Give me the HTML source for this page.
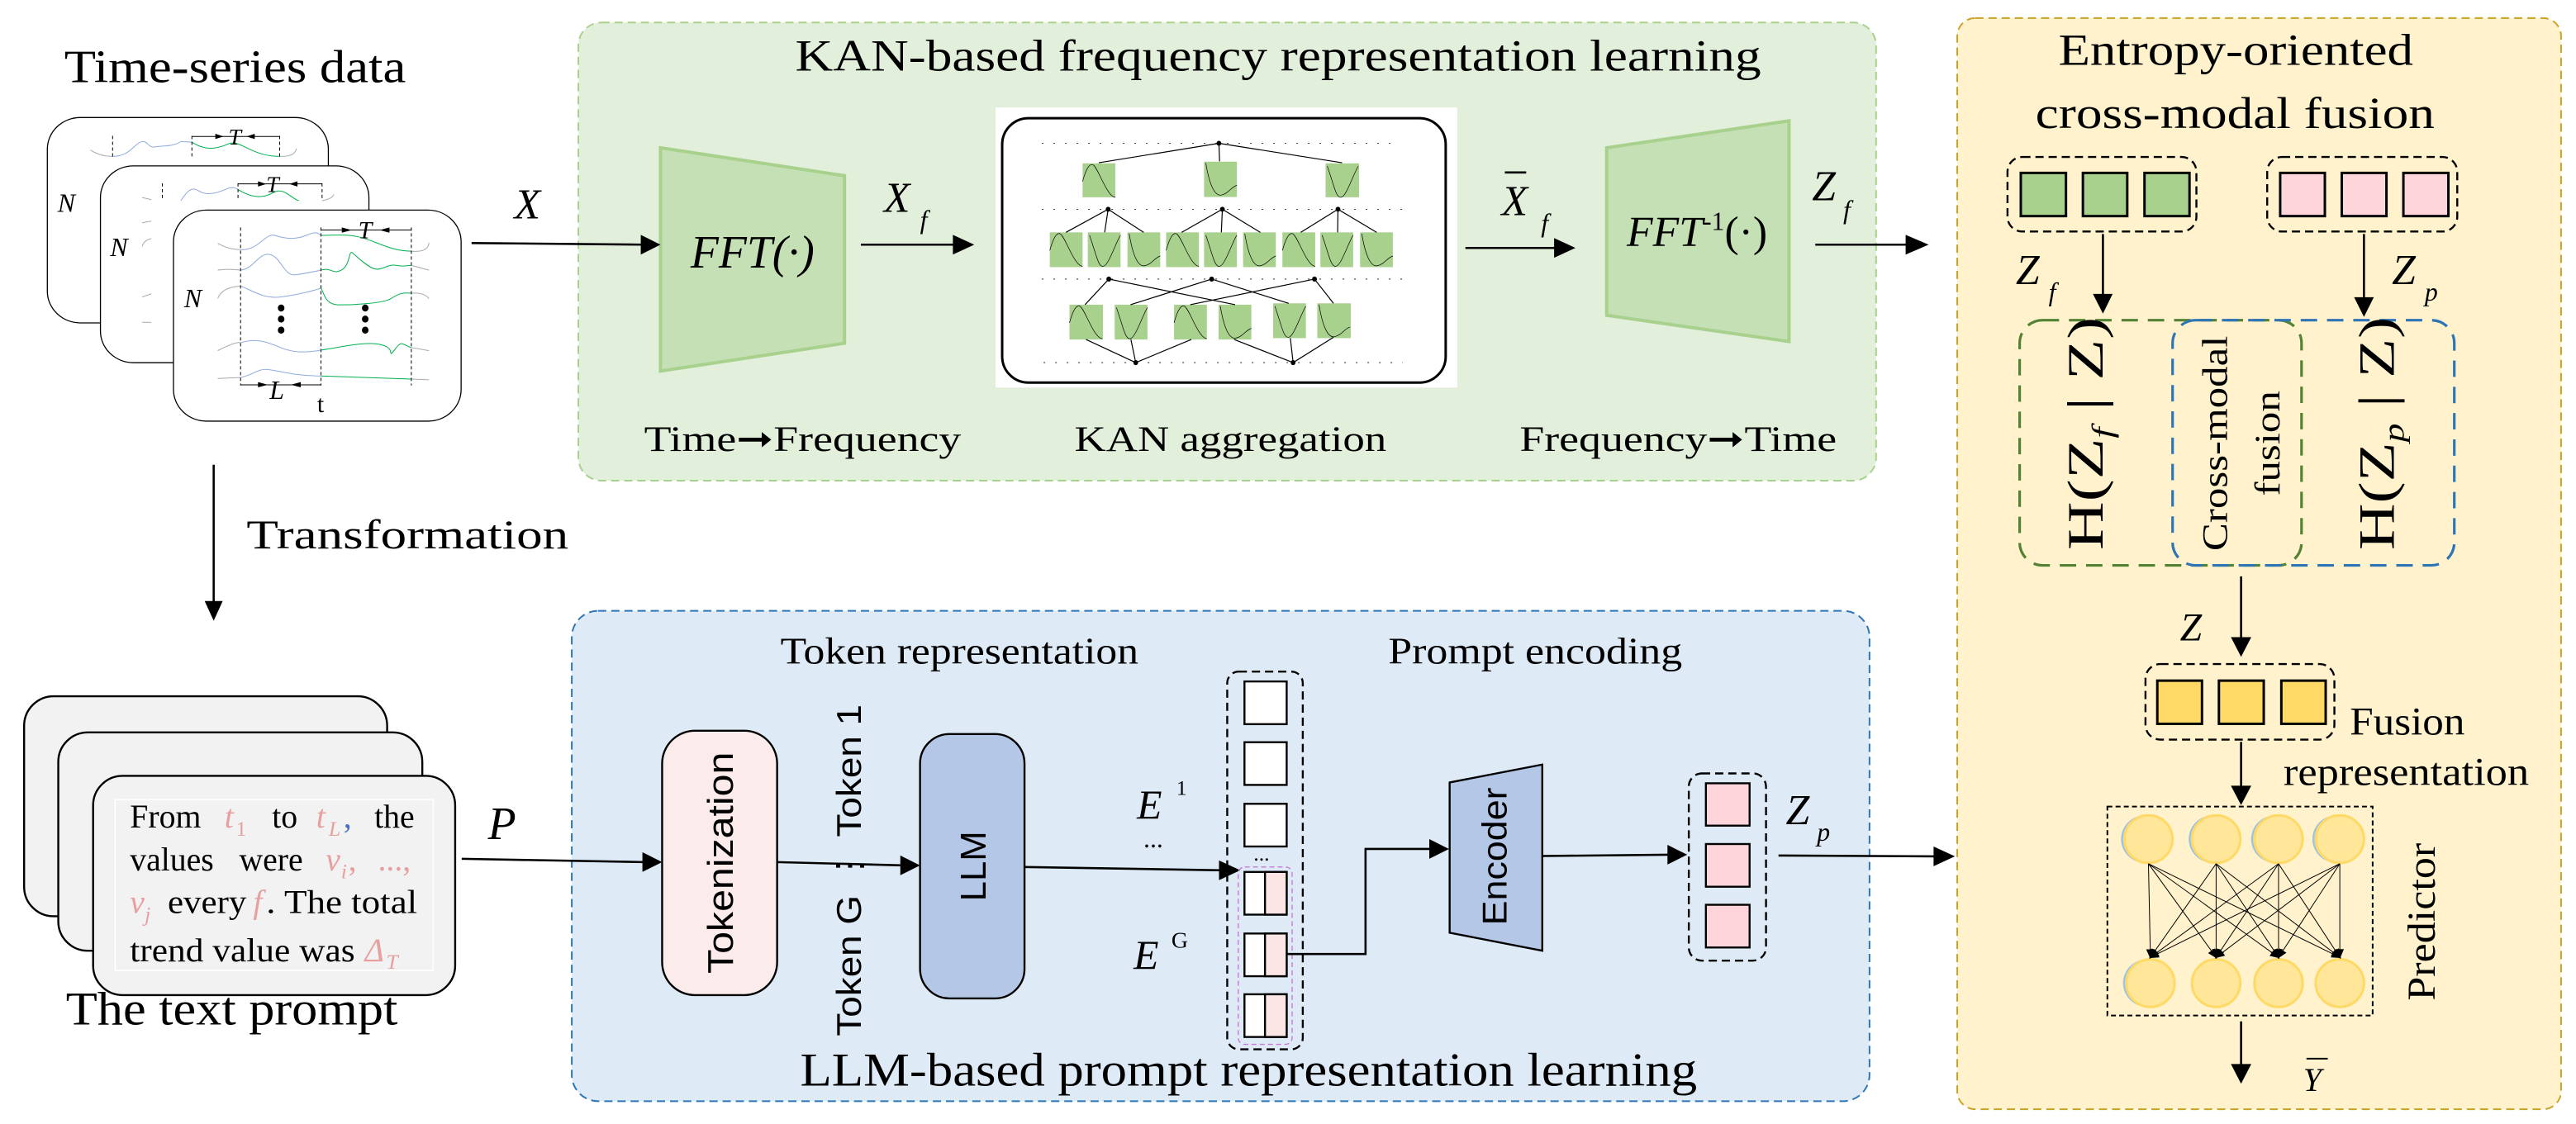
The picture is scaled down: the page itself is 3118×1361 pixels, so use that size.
<!DOCTYPE html>
<html><head><meta charset="utf-8"><style>
html,body{margin:0;padding:0;background:#fff;}
svg{display:block;}
.s{font-family:"Liberation Serif",serif;}
.a{font-family:"Liberation Sans",sans-serif;}
.i{font-style:italic;}
</style></head><body>
<svg width="3118" height="1361" viewBox="0 0 1568 684.5" xmlns="http://www.w3.org/2000/svg">
<defs>
<marker id="ah" markerWidth="6" markerHeight="6" refX="5" refY="3" orient="auto" markerUnits="userSpaceOnUse"><path d="M0,0.5 L6,3 L0,5.5Z" fill="#000"/></marker>
</defs>

<!-- ===== Green panel ===== -->
<rect x="352" y="13.7" width="790" height="279" rx="14" fill="#e2efda" stroke="#a9d18e" stroke-width="1" stroke-dasharray="5 3"/>
<text class="s" x="778" y="43" font-size="27" text-anchor="middle" textLength="588" lengthAdjust="spacingAndGlyphs">KAN-based frequency representation learning</text>
<polygon points="402,90 514,107 514,209 402,226" fill="#c5e0b4" stroke="#a9d18e" stroke-width="2"/>
<text class="s i" x="458" y="163" font-size="28" text-anchor="middle">FFT(·)</text>
<polygon points="978,90 1089,73.6 1089,208 978,192" fill="#c5e0b4" stroke="#a9d18e" stroke-width="2"/>
<text class="s i" x="1033" y="150" font-size="26" text-anchor="middle">FFT<tspan font-style="normal" font-size="16" dy="-10">-1</tspan><tspan font-style="normal" dy="10">(·)</tspan></text>
<!-- arrows -->
<line x1="287" y1="148" x2="392" y2="149" stroke="#000" stroke-width="1.3"/><polygon points="390,143 402,149 390,155" fill="#000"/>
<text class="s i" x="313" y="133" font-size="26">X</text>
<line x1="524" y1="149" x2="582" y2="149" stroke="#000" stroke-width="1.3"/><polygon points="580,143 593,149 580,155" fill="#000"/>
<text class="s i" x="538" y="129" font-size="26">X</text><text class="s i" x="560" y="139" font-size="16">f</text>
<line x1="892" y1="151" x2="948" y2="151" stroke="#000" stroke-width="1.3"/><polygon points="946,145 959,151 946,157" fill="#000"/>
<text class="s i" x="914" y="131" font-size="26">X</text><line x1="916" y1="105" x2="929" y2="105" stroke="#000" stroke-width="1.3"/><text class="s i" x="938" y="141" font-size="16">f</text>
<line x1="1105" y1="149" x2="1162" y2="149" stroke="#000" stroke-width="1.3"/><polygon points="1160,143 1174,149 1160,155" fill="#000"/>
<text class="s i" x="1103" y="122" font-size="26">Z</text><text class="s i" x="1122" y="133" font-size="16">f</text>
<text class="s" x="392" y="274.5" font-size="22" textLength="193" lengthAdjust="spacingAndGlyphs">Time➞Frequency</text>
<text class="s" x="654" y="274.5" font-size="22" textLength="190" lengthAdjust="spacingAndGlyphs">KAN aggregation</text>
<text class="s" x="925" y="274.5" font-size="22" textLength="193" lengthAdjust="spacingAndGlyphs">Frequency➞Time</text>

<!-- KAN box -->
<rect x="606" y="65.5" width="281" height="170.5" fill="#fff"/>
<rect x="610" y="72" width="270" height="161" rx="16" fill="#fff" stroke="#000" stroke-width="1.5"/>
<g transform="translate(610,72) scale(0.2101,0.1695) translate(-140,-125)" stroke="#000" fill="none">
 <g stroke-dasharray="2 12" stroke-width="1" vector-effect="non-scaling-stroke">
  <line x1="255" y1="215" x2="1270" y2="215" vector-effect="non-scaling-stroke" stroke-width="0.8"/>
  <line x1="255" y1="452" x2="1300" y2="452" vector-effect="non-scaling-stroke" stroke-width="0.8"/>
  <line x1="255" y1="703" x2="1300" y2="703" vector-effect="non-scaling-stroke" stroke-width="0.8"/>
  <line x1="260" y1="1003" x2="1300" y2="1003" vector-effect="non-scaling-stroke" stroke-width="0.8"/>
 </g>
 <g fill="#a9d18e" stroke="none">
  <rect x="373" y="287" width="95" height="122"/><rect x="725" y="281" width="95" height="127"/><rect x="1077" y="287" width="97" height="122"/>
  <rect x="278" y="535" width="95" height="125"/><rect x="388" y="535" width="95" height="125"/><rect x="503" y="535" width="95" height="125"/>
  <rect x="615" y="535" width="95" height="125"/><rect x="725" y="535" width="95" height="125"/><rect x="838" y="535" width="95" height="125"/>
  <rect x="952" y="535" width="95" height="125"/><rect x="1062" y="535" width="95" height="125"/><rect x="1177" y="535" width="95" height="125"/>
  <rect x="335" y="795" width="97" height="125"/><rect x="466" y="795" width="95" height="125"/><rect x="638" y="795" width="95" height="125"/>
  <rect x="767" y="795" width="95" height="125"/><rect x="925" y="790" width="95" height="125"/><rect x="1053" y="790" width="97" height="125"/>
 </g>
 <g stroke-width="1.2">
  <path vector-effect="non-scaling-stroke" d="M768,215 L420,285 M768,215 L770,280 M768,215 L1125,285
   M447,452 L325,535 M447,452 L437,535 M447,452 L550,535
   M778,452 L660,535 M778,452 L775,535 M778,452 L888,535
   M1113,452 L1005,535 M1113,452 L1112,535 M1113,452 L1225,535
   M449,703 L380,795 M449,703 L815,795 M747,703 L512,795 M747,703 L970,790 M1045,703 L685,795 M1045,703 L1100,790
   M527,1003 L383,920 M527,1003 L513,920 M527,1003 L688,920 M983,1003 L812,920 M983,1003 L975,915 M983,1003 L1100,912"/>
 </g>
 <g fill="#000" stroke="none">
  <ellipse cx="768" cy="215" rx="7" ry="9"/><ellipse cx="447" cy="452" rx="7" ry="9"/><ellipse cx="778" cy="452" rx="7" ry="9"/><ellipse cx="1113" cy="452" rx="7" ry="9"/>
  <ellipse cx="449" cy="703" rx="7" ry="9"/><ellipse cx="747" cy="703" rx="7" ry="9"/><ellipse cx="1045" cy="703" rx="7" ry="9"/>
  <ellipse cx="527" cy="1003" rx="7" ry="9"/><ellipse cx="983" cy="1003" rx="7" ry="9"/>
 </g>
 <g stroke-width="0.7">
  <path vector-effect="non-scaling-stroke" transform="translate(373,287)" d="M0,65 C10,20 20,0 30,5 C45,15 70,120 95,122"/>
  <path vector-effect="non-scaling-stroke" transform="translate(725,281)" d="M5,5 C15,80 30,125 50,120 C70,115 80,90 95,85"/>
  <path vector-effect="non-scaling-stroke" transform="translate(1077,287)" d="M5,10 C25,80 30,125 45,122 C60,120 80,40 95,10"/>
  <path vector-effect="non-scaling-stroke" transform="translate(278,535)" d="M0,65 C10,20 20,0 30,5 C45,15 70,120 95,122"/>
  <path vector-effect="non-scaling-stroke" transform="translate(388,535)" d="M5,10 C25,80 30,125 45,122 C60,120 80,40 95,10"/>
  <path vector-effect="non-scaling-stroke" transform="translate(503,535)" d="M5,5 C15,80 30,125 50,120 C70,115 80,90 95,85"/>
  <path vector-effect="non-scaling-stroke" transform="translate(615,535)" d="M0,65 C10,20 20,0 30,5 C45,15 70,120 95,122"/>
  <path vector-effect="non-scaling-stroke" transform="translate(725,535)" d="M5,10 C25,80 30,125 45,122 C60,120 80,40 95,10"/>
  <path vector-effect="non-scaling-stroke" transform="translate(838,535)" d="M5,5 C15,80 30,125 50,120 C70,115 80,90 95,85"/>
  <path vector-effect="non-scaling-stroke" transform="translate(952,535)" d="M0,65 C10,20 20,0 30,5 C45,15 70,120 95,122"/>
  <path vector-effect="non-scaling-stroke" transform="translate(1062,535)" d="M5,10 C25,80 30,125 45,122 C60,120 80,40 95,10"/>
  <path vector-effect="non-scaling-stroke" transform="translate(1177,535)" d="M5,5 C15,80 30,125 50,120 C70,115 80,90 95,85"/>
  <path vector-effect="non-scaling-stroke" transform="translate(335,795)" d="M0,65 C10,20 20,0 30,5 C45,15 70,120 95,122"/>
  <path vector-effect="non-scaling-stroke" transform="translate(466,795)" d="M5,10 C25,80 30,125 45,122 C60,120 80,40 95,10"/>
  <path vector-effect="non-scaling-stroke" transform="translate(638,795)" d="M0,65 C10,20 20,0 30,5 C45,15 70,120 95,122"/>
  <path vector-effect="non-scaling-stroke" transform="translate(767,795)" d="M5,5 C15,80 30,125 50,120 C70,115 80,90 95,85"/>
  <path vector-effect="non-scaling-stroke" transform="translate(925,790)" d="M5,10 C25,80 30,125 45,122 C60,120 80,40 95,10"/>
  <path vector-effect="non-scaling-stroke" transform="translate(1053,790)" d="M5,5 C15,80 30,125 50,120 C70,115 80,90 95,85"/>
 </g>
</g>

<!-- ===== Time series cards ===== -->
<text class="s" x="39" y="50" font-size="28" textLength="208" lengthAdjust="spacingAndGlyphs">Time-series data</text>
<g transform="scale(0.2245,0.1924)" fill="none">
 <rect x="128" y="372" width="762" height="650" rx="90" ry="100" fill="#fff" stroke="#000" stroke-width="1.3" vector-effect="non-scaling-stroke"/>
 <g stroke-width="1" vector-effect="non-scaling-stroke">
  <path vector-effect="non-scaling-stroke" stroke="#aaa" d="M245,475 Q270,495 305,495 M758,495 Q800,497 803,470"/>
  <path vector-effect="non-scaling-stroke" stroke="#8faadc" d="M305,495 C350,495 360,460 380,450 S400,470 420,465 S470,465 490,448 L520,450"/>
  <path vector-effect="non-scaling-stroke" stroke="#00b050" d="M520,450 C560,480 590,470 620,455 S680,495 758,495"/>
  <path vector-effect="non-scaling-stroke" stroke="#000" stroke-dasharray="4 3" d="M305,430 L305,495 M520,430 L520,495 M758,430 L758,495"/>
  <path vector-effect="non-scaling-stroke" stroke="#000" d="M520,432 L758,432"/>
 </g>
 <rect x="272" y="525" width="728" height="623" rx="90" ry="100" fill="#fff" stroke="#000" stroke-width="1.3" vector-effect="non-scaling-stroke"/>
 <g>
  <path vector-effect="non-scaling-stroke" stroke="#aaa" d="M385,625 L410,632 M385,705 L410,700 M385,780 Q390,760 410,755 M385,940 L410,930 M385,1020 L410,1020 M873,635 Q900,630 905,615"/>
  <path vector-effect="non-scaling-stroke" stroke="#8faadc" d="M490,635 C510,600 520,590 540,605 S590,610 610,600 S640,595 645,600"/>
  <path vector-effect="non-scaling-stroke" stroke="#00b050" d="M645,600 C680,625 710,630 740,610 S790,630 810,635"/>
  <path vector-effect="non-scaling-stroke" stroke="#000" stroke-dasharray="4 3" d="M440,580 L440,630 M645,580 L645,635 M873,580 L873,635"/>
  <path vector-effect="non-scaling-stroke" stroke="#000" d="M645,582 L873,582"/>
 </g>
 <rect x="470" y="665" width="780" height="668" rx="90" ry="100" fill="#fff" stroke="#000" stroke-width="1.3" vector-effect="non-scaling-stroke"/>
 <g>
  <path vector-effect="non-scaling-stroke" stroke="#aaa" d="M590,770 Q620,790 652,790 M1115,795 Q1160,800 1163,768 M590,855 Q620,850 652,855 M1115,840 L1163,855 M590,945 Q600,910 652,905 M1115,928 Q1150,925 1163,945 M590,1110 Q640,1080 652,1085 M1115,1100 L1163,1110 M590,1198 L652,1195 M1115,1200 L1163,1202"/>
  <path vector-effect="non-scaling-stroke" stroke="#8faadc" d="M652,790 C700,795 720,735 745,745 S800,760 830,745 S860,738 870,745 M652,855 C690,850 700,800 730,805 S770,875 800,870 S850,860 870,855 M652,905 C700,930 720,945 760,940 S850,920 870,912 M652,1085 C690,1070 720,1080 760,1100 S840,1115 870,1108 M652,1195 C690,1185 700,1165 730,1170 S800,1190 870,1190"/>
  <path vector-effect="non-scaling-stroke" stroke="#00b050" d="M870,745 C910,745 940,740 980,752 S1060,795 1115,795 M870,855 C900,845 900,870 925,855 S945,790 955,800 S1000,850 1020,852 S1050,835 1075,840 S1100,840 1115,840 M870,912 C880,930 880,965 920,965 S1040,960 1060,945 S1090,925 1115,928 M870,1108 C920,1100 990,1080 1030,1090 S1055,1125 1062,1118 S1080,1085 1090,1088 S1110,1100 1115,1100 M870,1190 L1115,1200"/>
  <path vector-effect="non-scaling-stroke" stroke="#000" stroke-dasharray="4 3" d="M652,720 L652,1220 M870,720 L870,1220 M1115,720 L1115,1220"/>
  <path vector-effect="non-scaling-stroke" stroke="#000" d="M870,728 L1115,728 M652,1218 L870,1218"/>
 </g>
 <g fill="#000">
  <ellipse cx="762" cy="975" rx="9" ry="11"/><ellipse cx="762" cy="1010" rx="9" ry="11"/><ellipse cx="762" cy="1045" rx="9" ry="11"/>
  <ellipse cx="990" cy="975" rx="9" ry="11"/><ellipse cx="990" cy="1010" rx="9" ry="11"/><ellipse cx="990" cy="1045" rx="9" ry="11"/>
 </g>
</g>
<!-- small arrow heads on T / L -->
<polygon points="131,81.5 136,83.1 131,84.7" fill="#000"/><polygon points="155,81.5 150,83.1 155,84.7" fill="#000"/>
<polygon points="157,110.4 162,112 157,113.6" fill="#000"/><polygon points="181,110.4 176,112 181,113.6" fill="#000"/>
<polygon points="208,138.5 214,140.1 208,141.7" fill="#000"/><polygon points="237,138.5 231,140.1 237,141.7" fill="#000"/>
<polygon points="157,232.7 163,234.3 157,235.9" fill="#000"/><polygon points="183,232.7 177,234.3 183,235.9" fill="#000"/>
<text class="s i" x="139" y="88" font-size="14">T</text>
<text class="s i" x="162" y="117" font-size="14">T</text>
<text class="s i" x="218" y="145" font-size="15">T</text>
<text class="s i" x="164" y="243" font-size="16">L</text>
<text class="s" x="193" y="251" font-size="15">t</text>
<text class="s i" x="35" y="129" font-size="16">N</text>
<text class="s i" x="67" y="156" font-size="16">N</text>
<text class="s i" x="112" y="187" font-size="16">N</text>

<!-- Transformation arrow -->
<line x1="130" y1="283" x2="130" y2="368" stroke="#000" stroke-width="1.3"/><polygon points="124.5,366 130,378 135.5,366" fill="#000"/>
<text class="s" x="150" y="334" font-size="25" textLength="196" lengthAdjust="spacingAndGlyphs">Transformation</text>

<!-- ===== Text prompt cards ===== -->
<rect x="14.6" y="424" width="221" height="134" rx="18" fill="#f2f2f2" stroke="#000" stroke-width="1.2"/>
<rect x="35.4" y="446" width="221.6" height="133" rx="18" fill="#f2f2f2" stroke="#000" stroke-width="1.2"/>
<rect x="56.6" y="472.5" width="220.4" height="133.5" rx="18" fill="#f2f2f2" stroke="#000" stroke-width="1.2"/>
<rect x="70" y="487" width="193.6" height="104" fill="#f2f2f2" stroke="#fff" stroke-width="0.8"/>
<g class="s" font-size="20">
 <text x="79" y="504">From</text>
 <text x="136.6" y="504" fill="#e6a0a0" font-style="italic">t</text><text x="143.5" y="509" fill="#e6a0a0" font-size="13">1</text>
 <text x="165.5" y="504">to</text>
 <text x="192.4" y="504" fill="#e6a0a0" font-style="italic">t</text><text x="200" y="509" fill="#e6a0a0" font-size="13" font-style="italic">L</text><text x="209" y="504" fill="#4472c4">,</text>
 <text x="227.8" y="504">the</text>
 <text x="79" y="530">values</text><text x="145.5" y="530">were</text>
 <text x="198.2" y="530" fill="#e6a0a0" font-style="italic">v</text><text x="207.5" y="535" fill="#e6a0a0" font-size="13" font-style="italic">i</text><text x="212" y="530" fill="#e6a0a0">,</text>
 <text x="230" y="530" fill="#e6a0a0">...,</text>
 <text x="79" y="556" fill="#e6a0a0" font-style="italic">v</text><text x="88" y="561" fill="#e6a0a0" font-size="13" font-style="italic">j</text>
 <text x="102" y="556" textLength="48" lengthAdjust="spacingAndGlyphs">every</text>
 <text x="154" y="556" fill="#e6a0a0" font-style="italic">f</text>
 <text x="162" y="556" textLength="92" lengthAdjust="spacingAndGlyphs">. The total</text>
 <text x="79" y="585.4" textLength="137" lengthAdjust="spacingAndGlyphs">trend value was</text>
 <text x="222" y="585.4" fill="#e6a0a0" font-style="italic">Δ</text><text x="235" y="590" fill="#e6a0a0" font-size="13" font-style="italic">T</text>
</g>
<text class="s" x="40" y="624" font-size="29" textLength="202" lengthAdjust="spacingAndGlyphs">The text prompt</text>

<!-- ===== Blue panel ===== -->
<rect x="348" y="372" width="790" height="298.6" rx="16" fill="#deebf7" stroke="#2e75b6" stroke-width="1" stroke-dasharray="5 3"/>
<text class="s" x="475" y="404" font-size="23" textLength="218" lengthAdjust="spacingAndGlyphs">Token representation</text>
<text class="s" x="845" y="404" font-size="23" textLength="179" lengthAdjust="spacingAndGlyphs">Prompt encoding</text>
<text class="s" x="487" y="661" font-size="29" textLength="546" lengthAdjust="spacingAndGlyphs">LLM-based prompt representation learning</text>

<line x1="281" y1="523" x2="392" y2="525" stroke="#000" stroke-width="1.3"/><polygon points="391,519 403,525 391,531" fill="#000"/>
<text class="s i" x="297" y="511" font-size="28">P</text>
<rect x="403" y="445" width="70" height="161" rx="20" fill="#fbeceb" stroke="#000" stroke-width="1.2"/>
<text class="a" transform="translate(446,525.5) rotate(-90)" font-size="22" text-anchor="middle" textLength="135" lengthAdjust="spacingAndGlyphs">Tokenization</text>
<text class="a" transform="translate(524,530) rotate(-90)" font-size="21" text-anchor="middle" textLength="202" lengthAdjust="spacingAndGlyphs">Token G ⋮ Token 1</text>
<line x1="473" y1="525" x2="549" y2="527" stroke="#000" stroke-width="1.3"/><polygon points="548,521 560,527 548,533" fill="#000"/>
<rect x="560" y="447" width="63.6" height="161" rx="18" fill="#b4c7e7" stroke="#000" stroke-width="1.2"/>
<text class="a" transform="translate(600,527.5) rotate(-90)" font-size="22" text-anchor="middle">LLM</text>
<line x1="623.6" y1="528" x2="744" y2="530" stroke="#000" stroke-width="1.3"/><polygon points="742,524 755,530 742,536" fill="#000"/>
<text class="s i" x="692" y="498.4" font-size="25">E</text><text class="s" x="716" y="484" font-size="13">1</text>
<text class="s" x="696" y="516" font-size="16">...</text>
<text class="s i" x="690" y="590" font-size="25">E</text><text class="s" x="713" y="577" font-size="14">G</text>
<!-- column -->
<rect x="747" y="409" width="46" height="230" rx="7" fill="none" stroke="#000" stroke-width="1.2" stroke-dasharray="5 3"/>
<rect x="753.7" y="528" width="32.8" height="108" rx="4" fill="none" stroke="#c878d8" stroke-width="0.7" stroke-dasharray="3 2"/>
<g stroke="#000" stroke-width="1.2" fill="#fff">
 <rect x="757.5" y="415" width="25.7" height="26"/>
 <rect x="757.5" y="452" width="25.7" height="26"/>
 <rect x="757.5" y="489.5" width="25.7" height="26"/>
 <rect x="757.5" y="531" width="25.7" height="26"/><rect x="770" y="531" width="13.2" height="26" fill="#fbe5e5"/>
 <rect x="757.5" y="568.5" width="25.7" height="26"/><rect x="770" y="568.5" width="13.2" height="26" fill="#fbe5e5"/>
 <rect x="757.5" y="605.5" width="25.7" height="26"/><rect x="770" y="605.5" width="13.2" height="26" fill="#fbe5e5"/>
</g>
<text class="s" x="763" y="524" font-size="13">...</text>
<polyline points="783.2,581 831.2,581 831.2,517 871,517" fill="none" stroke="#000" stroke-width="1.3"/><polygon points="870,511 882,517 870,523" fill="#000"/>
<polygon points="882.4,476.5 938.8,465.6 938.8,579 882.4,568" fill="#b4c7e7" stroke="#000" stroke-width="1.2"/>
<text class="a" transform="translate(917,521.5) rotate(-90)" font-size="21" text-anchor="middle" textLength="84" lengthAdjust="spacingAndGlyphs">Encoder</text>
<line x1="939" y1="521.3" x2="1016" y2="520.5" stroke="#000" stroke-width="1.3"/><polygon points="1015,514.5 1027,520.5 1015,526.5" fill="#000"/>
<rect x="1028" y="471" width="47" height="114" rx="8" fill="none" stroke="#000" stroke-width="1.2" stroke-dasharray="5 3"/>
<g fill="#fdd5db" stroke="#000" stroke-width="1.2">
 <rect x="1038.4" y="477" width="26.6" height="25.8"/><rect x="1038.4" y="514" width="26.6" height="26"/><rect x="1038.4" y="551" width="26.6" height="26"/>
</g>
<text class="s i" x="1087" y="502" font-size="26">Z</text><text class="s i" x="1106" y="512" font-size="16">p</text>
<line x1="1082.6" y1="521" x2="1178" y2="521.5" stroke="#000" stroke-width="1.3"/><polygon points="1177,515.5 1190,521.5 1177,527.5" fill="#000"/>

<!-- ===== Yellow panel ===== -->
<rect x="1191.4" y="11" width="367.6" height="664.5" rx="11" fill="#fff2cc" stroke="#c9a227" stroke-width="1" stroke-dasharray="5 3"/>
<text class="s" x="1253" y="39.5" font-size="27" textLength="216" lengthAdjust="spacingAndGlyphs">Entropy-oriented</text>
<text class="s" x="1239" y="78" font-size="27" textLength="243" lengthAdjust="spacingAndGlyphs">cross-modal fusion</text>
<rect x="1222" y="95.6" width="115" height="45.4" rx="9" fill="none" stroke="#000" stroke-width="1.2" stroke-dasharray="5 3"/>
<g fill="#a9d18e" stroke="#000" stroke-width="1.5">
 <rect x="1230.1" y="105.3" width="27.5" height="26.3"/><rect x="1267.9" y="105.3" width="27" height="26.3"/><rect x="1305.4" y="105.3" width="27.4" height="26.3"/>
</g>
<rect x="1380.1" y="95.6" width="115.7" height="45.4" rx="9" fill="none" stroke="#000" stroke-width="1.2" stroke-dasharray="5 3"/>
<g fill="#fdd5db" stroke="#000" stroke-width="1.5">
 <rect x="1388" y="105.3" width="27.2" height="26.3"/><rect x="1425.5" y="105.3" width="27.2" height="26.3"/><rect x="1463" y="105.3" width="27.4" height="26.3"/>
</g>
<line x1="1280.1" y1="142.5" x2="1280.1" y2="180" stroke="#000" stroke-width="1.3"/><polygon points="1274,179 1280.1,191 1286,179" fill="#000"/>
<line x1="1439" y1="142.5" x2="1439" y2="181" stroke="#000" stroke-width="1.3"/><polygon points="1433,181 1439,193 1445,181" fill="#000"/>
<text class="s i" x="1227" y="173" font-size="26">Z</text><text class="s i" x="1247" y="183" font-size="16">f</text>
<text class="s i" x="1456" y="173" font-size="26">Z</text><text class="s i" x="1476" y="183" font-size="16">p</text>
<rect x="1229.4" y="195" width="171.6" height="149.3" rx="14" fill="none" stroke="#548235" stroke-width="1.6" stroke-dasharray="10 6"/>
<rect x="1322.5" y="195" width="171.5" height="149.3" rx="14" fill="none" stroke="#2e75b6" stroke-width="1.6" stroke-dasharray="10 6"/>
<text class="s" transform="translate(1280,264) rotate(-90)" font-size="31" text-anchor="middle" textLength="142" lengthAdjust="spacingAndGlyphs">H(Z<tspan font-style="italic" font-size="18" dy="6">f</tspan><tspan dy="-6"> | Z)</tspan></text>
<text class="s" transform="translate(1355.6,270) rotate(-90)" font-size="22" text-anchor="middle" textLength="131" lengthAdjust="spacingAndGlyphs">Cross-modal</text>
<text class="s" transform="translate(1387.5,270) rotate(-90)" font-size="22" text-anchor="middle" textLength="64" lengthAdjust="spacingAndGlyphs">fusion</text>
<text class="s" transform="translate(1457.3,264) rotate(-90)" font-size="31" text-anchor="middle" textLength="142" lengthAdjust="spacingAndGlyphs">H(Z<tspan font-style="italic" font-size="18" dy="6">p</tspan><tspan dy="-6"> | Z)</tspan></text>
<line x1="1364.2" y1="351" x2="1364.2" y2="388" stroke="#000" stroke-width="1.3"/><polygon points="1358,388 1364.2,400 1370.4,388" fill="#000"/>
<text class="s i" x="1327" y="390" font-size="24">Z</text>
<rect x="1306" y="404.4" width="115" height="46" rx="9" fill="none" stroke="#000" stroke-width="1.2" stroke-dasharray="5 3"/>
<g fill="#ffd966" stroke="#000" stroke-width="1.5">
 <rect x="1313.2" y="414.5" width="27.2" height="26.3"/><rect x="1350.7" y="414.5" width="27.3" height="26.3"/><rect x="1388.7" y="414.5" width="27" height="26.3"/>
</g>
<text class="s" x="1430.4" y="447.4" font-size="24" textLength="70" lengthAdjust="spacingAndGlyphs">Fusion</text>
<text class="s" x="1390" y="478" font-size="24" textLength="149.5" lengthAdjust="spacingAndGlyphs">representation</text>
<line x1="1364.2" y1="451.8" x2="1364.2" y2="479" stroke="#000" stroke-width="1.3"/><polygon points="1358,478.5 1364.2,490.3 1370.4,478.5" fill="#000"/>
<rect x="1282.8" y="491.2" width="161.5" height="127.2" fill="none" stroke="#000" stroke-width="1" stroke-dasharray="3 2"/>
<g stroke="#ffd966" stroke-width="1.5" fill="#ffe699">
 <ellipse cx="1305.8" cy="511" rx="14.7" ry="14.5" fill="#9dc3e6" stroke="none"/><ellipse cx="1307.8" cy="511" rx="14.7" ry="14.5"/>
 <ellipse cx="1347" cy="511" rx="14.7" ry="14.5" fill="#9dc3e6" stroke="none"/><ellipse cx="1349" cy="511" rx="14.7" ry="14.5"/>
 <ellipse cx="1385" cy="511" rx="14.7" ry="14.5" fill="#9dc3e6" stroke="none"/><ellipse cx="1387" cy="511" rx="14.7" ry="14.5"/>
 <ellipse cx="1422.3" cy="511" rx="14.7" ry="14.5" fill="#9dc3e6" stroke="none"/><ellipse cx="1424.3" cy="511" rx="14.7" ry="14.5"/>
 <ellipse cx="1307" cy="598.7" rx="14.7" ry="14.5" fill="#9dc3e6" stroke="none"/><ellipse cx="1309" cy="598.7" rx="14.7" ry="14.5"/>
 <ellipse cx="1349" cy="598.7" rx="14.7" ry="14.5"/>
 <ellipse cx="1387" cy="598.7" rx="14.7" ry="14.5"/>
 <ellipse cx="1424.3" cy="598.7" rx="14.7" ry="14.5"/>
</g>
<g stroke="#000" stroke-width="0.5" marker-end="url(#ah)">
 <line x1="1307.8" y1="526" x2="1309" y2="583"/><line x1="1307.8" y1="526" x2="1349" y2="583"/><line x1="1307.8" y1="526" x2="1387" y2="583"/><line x1="1307.8" y1="526" x2="1424.3" y2="583"/>
 <line x1="1349" y1="526" x2="1309" y2="583"/><line x1="1349" y1="526" x2="1349" y2="583"/><line x1="1349" y1="526" x2="1387" y2="583"/><line x1="1349" y1="526" x2="1424.3" y2="583"/>
 <line x1="1387" y1="526" x2="1309" y2="583"/><line x1="1387" y1="526" x2="1349" y2="583"/><line x1="1387" y1="526" x2="1387" y2="583"/><line x1="1387" y1="526" x2="1424.3" y2="583"/>
 <line x1="1424.3" y1="526" x2="1309" y2="583"/><line x1="1424.3" y1="526" x2="1349" y2="583"/><line x1="1424.3" y1="526" x2="1387" y2="583"/><line x1="1424.3" y1="526" x2="1424.3" y2="583"/>
</g>
<text class="s" transform="translate(1482,561.4) rotate(-90)" font-size="24" text-anchor="middle" textLength="96" lengthAdjust="spacingAndGlyphs">Predictor</text>
<line x1="1364.2" y1="622" x2="1364.2" y2="649" stroke="#000" stroke-width="1.3"/><polygon points="1358,648 1364.2,660 1370.4,648" fill="#000"/>
<text class="s i" x="1402" y="664.5" font-size="20">Y</text><line x1="1404" y1="644.7" x2="1417" y2="644.7" stroke="#000" stroke-width="1"/>
</svg>
</body></html>
